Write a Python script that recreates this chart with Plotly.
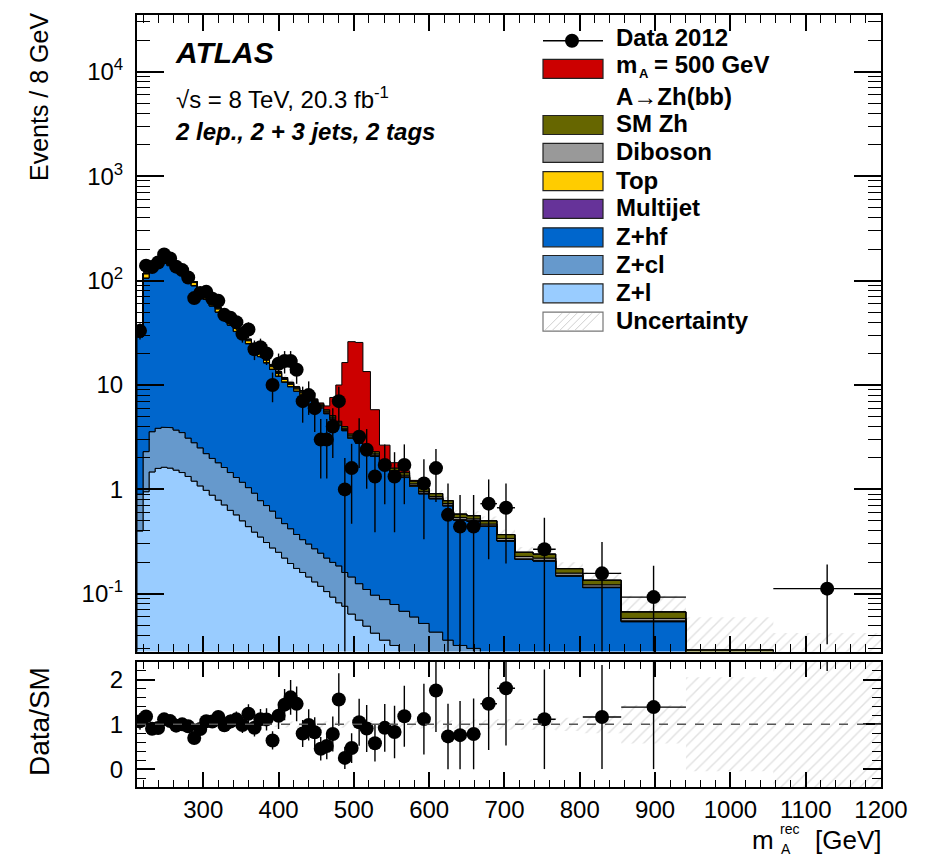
import math
import numpy as np
import plotly.graph_objects as go

# ---------------- data ----------------
bin_edges = [212, 220, 228, 236, 244, 252, 260, 268, 276, 284, 292, 300, 308, 316, 324, 332,
             340, 348, 356, 364, 372, 380, 388, 396, 404, 412, 420, 428, 436, 444, 452, 460,
             468, 476, 484, 492, 502, 512, 522, 534, 548, 560, 574, 586, 600, 618, 632, 650,
             668, 690, 714, 738, 768, 804, 855, 941, 1057, 1200]

# Events / 8 GeV per background component
z_l = [0.40, 0.95, 1.47, 1.59, 1.63, 1.60, 1.53, 1.45, 1.33, 1.20, 1.08, 0.98, 0.88, 0.79, 0.71,
       0.63, 0.57, 0.50, 0.44, 0.39, 0.35, 0.31, 0.275, 0.25, 0.22, 0.195, 0.175, 0.16, 0.145,
       0.13, 0.118, 0.105, 0.093, 0.082, 0.076, 0.064, 0.056, 0.049, 0.042, 0.036, 0.032, 0.025,
       0.020, 0.016, 0.012, 0.010, 0.008, 0.006, 0.005, 0.004, 0.003, 0.0025, 0.002, 0.0015,
       0.001, 0.0005, 0.0003]
z_cl = [0.5, 1.35, 2.1, 2.26, 2.31, 2.3, 2.17, 2.05, 1.77, 1.6, 1.42, 1.22, 1.1, 1.01, 0.91, 0.82,
        0.73, 0.67, 0.6, 0.53, 0.43, 0.39, 0.345, 0.28, 0.25, 0.225, 0.195, 0.17, 0.155, 0.14,
        0.127, 0.115, 0.107, 0.103, 0.084, 0.081, 0.069, 0.061, 0.055, 0.052, 0.047, 0.043, 0.04,
        0.036, 0.031, 0.026, 0.024, 0.024, 0.02, 0.016, 0.013, 0.0105, 0.008, 0.0065, 0.005,
        0.0035, 0.0027]
z_hf = [28.0, 103.3, 132.2, 143.5, 142.3, 135.0, 123.9, 111.4, 99.0, 86.4, 74.7, 64.1, 55.1, 48.0,
        41.8, 36.0, 31.2, 27.3, 23.8, 20.6, 17.9, 15.6, 13.5, 11.6, 10.2, 9.2, 8.36, 7.7, 7.12,
        6.42, 5.8, 5.09, 4.46, 3.92, 3.49, 2.94, 2.65, 2.29, 1.98, 1.57, 1.35, 1.23, 1.01, 0.855,
        0.77, 0.66, 0.476, 0.465, 0.418, 0.30, 0.197, 0.193, 0.138, 0.1065, 0.048, 0.0183, 0.0086]
multijet = [0.1, 0.5, 0.6, 0.7, 0.8, 0.7, 0.6, 0.5, 0.45, 0.4, 0.35, 0.3, 0.27, 0.24, 0.21, 0.18,
            0.16, 0.14, 0.12, 0.1, 0.09, 0.08, 0.07, 0.06, 0.05, 0.045, 0.04, 0.035, 0.03, 0.025,
            0.02, 0.018, 0.016, 0.014, 0.012, 0.01, 0.009, 0.008, 0.007, 0.006, 0.005, 0.004,
            0.004, 0.003, 0.003, 0.002, 0.002, 0.002, 0.001, 0.001, 0.001, 0.001, 0.0005, 0.0005,
            0.0003, 0.0002, 0.0001]
top = [1.5, 10, 11, 11, 10, 9.5, 9, 8, 7, 6.2, 5.4, 4.6, 4.0, 3.5, 3.0, 2.6, 2.2, 1.9, 1.6, 1.35,
       1.15, 0.95, 0.8, 0.68, 0.57, 0.48, 0.4, 0.34, 0.28, 0.23, 0.19, 0.16, 0.13, 0.11, 0.09,
       0.075, 0.06, 0.05, 0.04, 0.032, 0.026, 0.02, 0.016, 0.013, 0.01, 0.008, 0.006, 0.005,
       0.004, 0.003, 0.002, 0.002, 0.0015, 0.001, 0.0008, 0.0005, 0.0003]
diboson = [0.3, 1.5, 2.0, 2.2, 2.2, 2.1, 2.0, 1.8, 1.6, 1.45, 1.3, 1.15, 1.0, 0.9, 0.8, 0.72, 0.64,
           0.57, 0.5, 0.45, 0.4, 0.36, 0.32, 0.28, 0.25, 0.22, 0.2, 0.18, 0.16, 0.15, 0.14, 0.13,
           0.12, 0.11, 0.1, 0.09, 0.08, 0.07, 0.065, 0.058, 0.052, 0.046, 0.04, 0.035, 0.03,
           0.026, 0.022, 0.02, 0.018, 0.015, 0.012, 0.011, 0.008, 0.006, 0.003, 0.002, 0.001]
sm_zh = [0.1, 0.4, 0.6, 0.7, 0.8, 0.8, 0.8, 0.8, 0.8, 0.75, 0.72, 0.68, 0.64, 0.6, 0.56, 0.52,
         0.48, 0.44, 0.41, 0.38, 0.35, 0.32, 0.3, 0.28, 0.26, 0.24, 0.23, 0.22, 0.21, 0.2, 0.19,
         0.18, 0.17, 0.16, 0.15, 0.14, 0.13, 0.12, 0.11, 0.1, 0.09, 0.08, 0.07, 0.062, 0.055,
         0.048, 0.042, 0.038, 0.034, 0.03, 0.022, 0.02, 0.016, 0.013, 0.009, 0.004, 0.002]
signal = [0, 0, 0, 0, 0, 0, 0, 0, 0, 0, 0, 0, 0, 0, 0, 0, 0, 0, 0, 0, 0, 0, 0, 0, 0, 0, 0, 0, 0,
          0.05, 0.15, 0.5, 2.5, 5.5, 12.4, 22.6, 22.5, 10.8, 3.5, 0.8, 0.2, 0.06, 0.02,
          0, 0, 0, 0, 0, 0, 0, 0, 0, 0, 0, 0, 0, 0]
data_2012 = [33, 139, 135, 149, 178, 163, 136, 126, 107, 68, 76, 78, 67, 64, 47, 44, 40, 31, 34,
             22, 23, 20, 10, 16, 17, 17, 14, 7, 8, 6, 3, 3, 4, 7, 1.0, 1.6, 3.2, 2.4, 1.33, 1.71,
             1.33, 1.71, None, 1.14, 1.6, 0.57, 0.44, 0.44, 0.73, 0.667, None, 0.267, None,
             0.157, 0.093, None, 0.112]
rel_unc = [0.06, 0.06, 0.06, 0.06, 0.06, 0.06, 0.06, 0.06, 0.06, 0.06, 0.06, 0.06, 0.06, 0.06,
           0.06, 0.06, 0.06, 0.06, 0.06, 0.06, 0.06, 0.06, 0.06, 0.06, 0.07, 0.07, 0.07, 0.07,
           0.07, 0.07, 0.07, 0.07, 0.07, 0.07, 0.08, 0.08, 0.08, 0.08, 0.08, 0.08, 0.08, 0.08,
           0.09, 0.09, 0.09, 0.09, 0.09, 0.10, 0.10, 0.12, 0.12, 0.12, 0.15, 0.20, 0.43, 1.05, 1.8]

x_ticks = [300, 400, 500, 600, 700, 800, 900, 1000, 1100, 1200]
y_ticks = [0.1, 1, 10, 100, 1000, 10000]
y_ticktext = ["10<sup>-1</sup>", "1", "10", "10<sup>2</sup>", "10<sup>3</sup>", "10<sup>4</sup>"]
r_ticks = [0, 1, 2]

# ---------------- geometry (screen px; page body has an 8px margin) ----------------
OFF = 8
W, H = 927 - OFF, 860 - OFF
PL, PR, PT, PB = 137, 881, 15, 787          # plot area on screen
ML, MR, MT, MB = PL - OFF, W + OFF - PR, PT - OFF, H + OFF - PB
PW, PH = PR - PL, PB - PT
FONT = "Liberation Sans"


def px(x):
    return (x - PL) / PW


def py(y):
    return (PB - y) / PH


edges = np.array(bin_edges, float)
widths = np.diff(edges)
centers = 0.5 * (edges[:-1] + edges[1:])


def step(vals):
    xs, ys = [], []
    for i, v in enumerate(vals):
        xs += [edges[i], edges[i + 1]]
        ys += [v, v]
    return xs, ys


def polygon(upper, lower):
    xu, yu = step(upper)
    xl, yl = step(lower)
    return xu + xl[::-1] + [xu[0]], yu + yl[::-1] + [yu[0]]


fig = go.Figure()

layers = [
    (z_l, "#99ccff"), (z_cl, "#6699cc"), (z_hf, "#0066cc"), (multijet, "#663399"),
    (top, "#ffcc00"), (diboson, "#999999"), (sm_zh, "#666600"),
]
total = np.sum([np.array(v, float) for v, _ in layers], axis=0)

# uncertainty band (main)
unc = np.array(rel_unc)
band_hi = total * (1 + unc)
band_lo = np.maximum(total * (1 - unc), 1e-4)
bx, by = polygon(band_hi, band_lo)
hatch = dict(shape="/", fgcolor="#c4c4c4", bgcolor="rgba(255,255,255,0)", size=8, solidity=0.18)
fig.add_trace(go.Scatter(x=bx, y=by, fill="toself", fillcolor="rgba(0,0,0,0)", fillpattern=hatch,
                         line=dict(width=0), mode="lines", xaxis="x", yaxis="y",
                         hoverinfo="skip", showlegend=False))

cum = None
for vals, col in layers + [(signal, "#cc0000")]:
    v = np.array(vals, float)
    lower = np.full(len(v), 1e-4) if cum is None else cum
    up = v if cum is None else cum + v
    xs, ys = polygon(up, lower)
    fig.add_trace(go.Scatter(x=xs, y=ys, fill="toself", fillcolor=col, mode="lines",
                             line=dict(color="black", width=1), xaxis="x", yaxis="y",
                             hoverinfo="skip", showlegend=False))
    cum = up

# data
dx, dy, dup, ddn, dhw, rr, rup, rdn = [], [], [], [], [], [], [], []
for i, v in enumerate(data_2012):
    if v is None:
        continue
    n = v * widths[i] / 8.0
    e = math.sqrt(n) * 8.0 / widths[i]
    dx.append(centers[i])
    dy.append(v)
    dup.append(e)
    ddn.append(min(e, v - 1e-3))
    dhw.append(widths[i] / 2)
    rr.append(v / total[i])
    rup.append(e / total[i])
    rdn.append(e / total[i])

errstyle = dict(color="black", thickness=1.4, width=0)
fig.add_trace(go.Scatter(x=dx, y=dy, mode="markers", marker=dict(color="black", size=14),
                         error_y=dict(type="data", array=dup, arrayminus=ddn, **errstyle),
                         error_x=dict(type="data", array=dhw, **errstyle),
                         xaxis="x", yaxis="y", showlegend=False))

# ratio panel
rbx, rby = polygon(1 + unc, np.maximum(1 - unc, -1.0))
fig.add_trace(go.Scatter(x=rbx, y=rby, fill="toself", fillcolor="rgba(0,0,0,0)", fillpattern=hatch,
                         line=dict(width=0), mode="lines", xaxis="x2", yaxis="y2",
                         hoverinfo="skip", showlegend=False))
fig.add_shape(type="line", xref="x2", yref="y2", x0=bin_edges[0], x1=bin_edges[-1], y0=1, y1=1,
              line=dict(color="#555555", width=1.5, dash="dash"))
fig.add_trace(go.Scatter(x=dx, y=rr, mode="markers", marker=dict(color="black", size=14),
                         error_y=dict(type="data", array=rup, arrayminus=rdn, **errstyle),
                         error_x=dict(type="data", array=dhw, **errstyle),
                         xaxis="x2", yaxis="y2", showlegend=False, cliponaxis=True))

# ---------------- axes ----------------
tickfont = dict(family=FONT, size=24, color="black")
common_x = dict(range=[bin_edges[0], bin_edges[-1]], showgrid=False, zeroline=False,
                showline=True, linecolor="black", linewidth=2, mirror="allticks",
                ticks="inside", tickcolor="black", tickwidth=1.5, tickmode="array",
                tickvals=x_ticks, tickfont=tickfont, automargin=False)
minor_log = [m * 10 ** k for k in range(-2, 5) for m in range(2, 10)]
main_bottom = (PB - 651.5) / PH
ratio_top = (PB - 661.7) / PH
fig.update_layout(
    width=W, height=H, margin=dict(l=ML, r=MR, t=MT, b=MB, autoexpand=False),
    paper_bgcolor="white", plot_bgcolor="white", showlegend=False,
    xaxis=dict(domain=[0, 1], anchor="y", showticklabels=False, ticklen=16,
               minor=dict(ticks="inside", ticklen=8, dtick=20, tick0=200, tickcolor="black",
                          tickwidth=1.2), **common_x),
    yaxis=dict(domain=[main_bottom, 1], type="log",
               range=[math.log10(0.028), math.log10(35000)],
               showgrid=False, zeroline=False, showline=True, linecolor="black", linewidth=2,
               mirror="allticks", ticks="inside", ticklen=27, tickwidth=1.5, tickcolor="black",
               tickmode="array", tickvals=y_ticks, ticktext=y_ticktext, tickfont=tickfont,
               ticklabelstandoff=7, automargin=False,
               minor=dict(ticks="inside", ticklen=13, tickvals=minor_log, tickcolor="black",
                          tickwidth=1.2)),
    xaxis2=dict(domain=[0, 1], anchor="y2", showticklabels=True, ticklen=15,
                minor=dict(ticks="inside", ticklen=7, dtick=20, tick0=200, tickcolor="black",
                           tickwidth=1.2), **common_x),
    yaxis2=dict(domain=[0, ratio_top], range=[-0.4, 2.4], showgrid=False, zeroline=False,
                showline=True, linecolor="black", linewidth=2, mirror="allticks",
                ticks="inside", ticklen=18, tickwidth=1.5, tickcolor="black", tickmode="array",
                tickvals=r_ticks, tickfont=tickfont, ticklabelstandoff=7, automargin=False,
                minor=dict(ticks="inside", ticklen=9, dtick=0.2, tick0=0, tickcolor="black",
                           tickwidth=1.2)),
)

# ---------------- annotations ----------------
anns = []


def ann(text, x, y, size, xanchor="left", yanchor="middle", angle=0):
    anns.append(dict(text=text, x=px(x), y=py(y), xref="paper", yref="paper", showarrow=False,
                     xanchor=xanchor, yanchor=yanchor, textangle=angle, borderpad=0,
                     font=dict(family=FONT, size=size, color="black")))


ann("<b><i>ATLAS</i></b>", 174, 53, 30)
ann("√s = 8 TeV, 20.3 fb<sup>-1</sup>", 175, 98, 24)
ann("<b><i>2 lep., 2 + 3 jets, 2 tags</i></b>", 174, 132, 24)

ann("Events / 8 GeV", 39, 12, 25, xanchor="center", yanchor="top", angle=-90)
ann("Data/SM", 39, 722, 28, xanchor="center", yanchor="middle", angle=-90)

ann("m", 775, 840, 26, xanchor="right")
ann("rec", 779, 829, 14)
ann("A", 780, 849, 14)
ann("[GeV]", 882, 840, 26, xanchor="right")

# legend
shapes = []
BX0, BX1 = 543, 603
LEGSIZE = 24
leg_rows = [
    ("<b>SM Zh</b>", "#666600", 125.0),
    ("<b>Diboson</b>", "#999999", 152.8),
    ("<b>Top</b>", "#ffcc00", 181.2),
    ("<b>Multijet</b>", "#663399", 208.8),
    ("<b>Z+hf</b>", "#0066cc", 237.3),
    ("<b>Z+cl</b>", "#6699cc", 265.0),
    ("<b>Z+l</b>", "#99ccff", 293.3),
]
for text, col, yc in leg_rows:
    shapes.append(dict(type="rect", xref="paper", yref="paper", x0=px(BX0), x1=px(BX1),
                       y0=py(yc + 9.5), y1=py(yc - 9.5), fillcolor=col,
                       line=dict(color="#222222", width=1.2)))
    ann(text, 615, yc - 1, LEGSIZE)

# signal entry (two lines, m with subscript A)
sy = 68.8
shapes.append(dict(type="rect", xref="paper", yref="paper", x0=px(BX0), x1=px(BX1),
                   y0=py(sy + 9.5), y1=py(sy - 9.5), fillcolor="#cc0000",
                   line=dict(color="#222222", width=1.2)))
ann("<b>m</b>", 615, sy - 4, LEGSIZE)
ann("<b>A</b>", 638, sy + 5, 13)
ann("<b>= 500 GeV</b>", 653, sy - 4, LEGSIZE)
ann("<b>A→Zh(bb)</b>", 615, 96, LEGSIZE)

# data entry
shapes.append(dict(type="line", xref="paper", yref="paper", x0=px(BX0), x1=px(BX1),
                   y0=py(40.7), y1=py(40.7), line=dict(color="black", width=1.5)))
shapes.append(dict(type="circle", xref="paper", yref="paper", xsizemode="pixel",
                   ysizemode="pixel", xanchor=px(572), yanchor=py(40.7), x0=-7, x1=7, y0=-7,
                   y1=7, fillcolor="black", line=dict(color="black", width=0)))
ann("<b>Data 2012</b>", 615, 38, LEGSIZE)

# uncertainty entry
uy = 321.7
shapes.append(dict(type="rect", xref="paper", yref="paper", x0=px(BX0), x1=px(BX1),
                   y0=py(uy + 9.5), y1=py(uy - 9.5), fillcolor="white",
                   line=dict(color="#777777", width=1.2)))
for k in range(6):
    x0 = BX0 + 2 + k * 7.5
    shapes.append(dict(type="line", xref="paper", yref="paper", x0=px(x0), x1=px(x0 + 17),
                       y0=py(uy + 8.5), y1=py(uy - 8.5), line=dict(color="#d0d0d0", width=1)))
ann("<b>Uncertainty</b>", 615, uy - 1, LEGSIZE)

fig.update_layout(annotations=anns, shapes=fig.layout.shapes + tuple(shapes))

fig.write_html("out.html")
